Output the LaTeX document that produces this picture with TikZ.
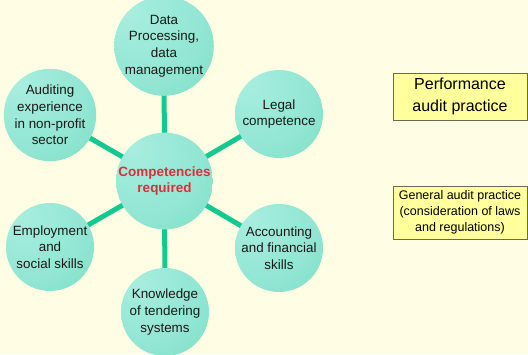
\documentclass[tikz,border=0pt]{standalone}
\usepackage{fontspec}
\setmainfont{Liberation Sans}
\definecolor{bg}{HTML}{FFFDE3}
\definecolor{linkc}{HTML}{14C98F}
\definecolor{cLight}{HTML}{A8EEDF}
\definecolor{cMid}{HTML}{92E6D3}
\definecolor{cDark}{HTML}{38CE9A}
\definecolor{boxc}{HTML}{FFFF9C}
\definecolor{boxb}{HTML}{6A6A50}
\definecolor{redt}{HTML}{D9303C}
\pgfdeclareradialshading{ballshade}{\pgfpoint{-18bp}{18bp}}{%
  color(0bp)=(cLight); color(30bp)=(cMid); color(50bp)=(cMid!70!cDark); color(68bp)=(cDark); color(80bp)=(cDark)}
\pgfdeclarelayer{bglayer}
\pgfdeclarelayer{linklayer}
\pgfsetlayers{bglayer,linklayer,main}
\begin{document}
\begin{tikzpicture}[x=1pt,y=-1pt,
  ball/.style={circle, minimum size=88pt, inner sep=0pt, align=center,
    shading=ballshade,
    font=\fontsize{13.4}{16.7}\selectfont, text=black!90},
  link/.style={draw=linkc, line width=5pt},
  infobox/.style={draw=boxb, fill=boxc, line width=0.8pt, align=center, inner sep=0pt}
]
\begin{pgfonlayer}{bglayer}
\fill[bg] (0,0) rectangle (528,354);
\end{pgfonlayer}
\useasboundingbox (0,0) rectangle (528,354);
\node[ball] (top) at (164,46) {Data\\Processing,\\data\\management};
\node[ball] (ur) at (279,114) {Legal\\competence};
\node[ball] (lr) at (279,248) {Accounting\\and financial\\skills};
\node[ball] (bot) at (165,312) {Knowledge\\of tendering\\systems};
\node[ball] (ll) at (50,247) {Employment\\and\\social skills};
\node[ball] (ul) at (50,115) {Auditing\\experience\\in non-profit\\sector};
\node[ball, text=redt, font=\bfseries\fontsize{13.5}{16.7}\selectfont] (center) at (164.5,181) {Competencies\\required};
\begin{pgfonlayer}{linklayer}
\draw[link] (center.center) -- (top.center);
\draw[link] (center.center) -- (ur.center);
\draw[link] (center.center) -- (lr.center);
\draw[link] (center.center) -- (bot.center);
\draw[link] (center.center) -- (ll.center);
\draw[link] (center.center) -- (ul.center);
\end{pgfonlayer}
\node[infobox, minimum width=134pt, minimum height=47pt, font=\fontsize{16}{21.5}\selectfont] (perf) at (460,96.5) {Performance\\audit practice};
\node[infobox, minimum width=134pt, minimum height=53pt, font=\fontsize{12.5}{16}\selectfont] (gen) at (460,212.5) {General audit practice\\(consideration of laws\\and regulations)};
\end{tikzpicture}
\end{document}
